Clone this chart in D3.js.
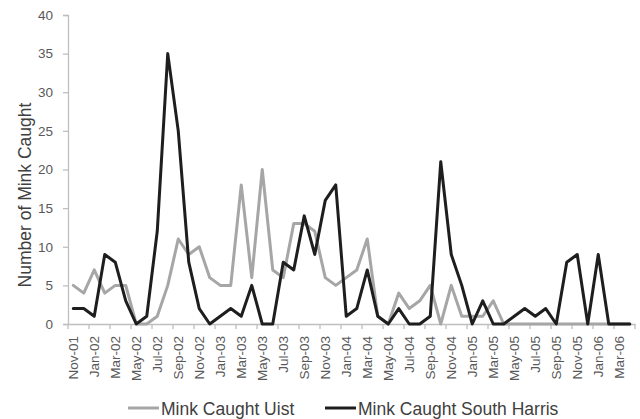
<!DOCTYPE html>
<html>
<head>
<meta charset="utf-8">
<script src="https://cdn.jsdelivr.net/npm/d3@7"></script>
<style>
  html, body { margin: 0; padding: 0; background: #ffffff; }
  svg { display: block; font-family: "Liberation Sans", Arial, sans-serif; }
</style>
</head>
<body>
<svg id="chart" width="640" height="419"></svg>
<script>
// Monthly mink catches, Nov 2001 – Apr 2006
const months = [
  "Nov-01","Dec-01","Jan-02","Feb-02","Mar-02","Apr-02","May-02","Jun-02","Jul-02","Aug-02",
  "Sep-02","Oct-02","Nov-02","Dec-02","Jan-03","Feb-03","Mar-03","Apr-03","May-03","Jun-03",
  "Jul-03","Aug-03","Sep-03","Oct-03","Nov-03","Dec-03","Jan-04","Feb-04","Mar-04","Apr-04",
  "May-04","Jun-04","Jul-04","Aug-04","Sep-04","Oct-04","Nov-04","Dec-04","Jan-05","Feb-05",
  "Mar-05","Apr-05","May-05","Jun-05","Jul-05","Aug-05","Sep-05","Oct-05","Nov-05","Dec-05",
  "Jan-06","Feb-06","Mar-06","Apr-06"
];
const uist = [
  5,4,7,4,5,5,0,0,1,5,
  11,9,10,6,5,5,18,6,20,7,
  6,13,13,12,6,5,6,7,11,1,
  0,4,2,3,5,0,5,1,1,1,
  3,0,0,0,0,0,0,0,0,0,
  0,0,0,0
];
const southHarris = [
  2,2,1,9,8,3,0,1,12,35,
  25,8,2,0,1,2,1,5,0,0,
  8,7,14,9,16,18,1,2,7,1,
  0,2,0,0,1,21,9,5,0,3,
  0,0,1,2,1,2,0,8,9,0,
  9,0,0,0
];
const yTicks = [0,5,10,15,20,25,30,35,40];
const seriesNames = ["Mink Caught Uist", "Mink Caught South Harris"];

const svg = d3.select("#chart");
const plotLeft = 68, plotRight = 635, plotTop = 15, plotBottom = 324;

const x = d3.scaleBand().domain(months).range([plotLeft, plotRight]).padding(0);
const y = d3.scaleLinear().domain([0, 40]).range([plotBottom, plotTop]);

const axisColor = "#bfbfbf";
const textColor = "#595959";

// Y axis
const yAxis = svg.append("g")
  .attr("transform", `translate(${plotLeft},0)`)
  .call(d3.axisLeft(y).tickValues(yTicks).tickSize(5).tickPadding(10));
yAxis.select(".domain").attr("stroke", axisColor).attr("stroke-width", 1.3);
yAxis.selectAll(".tick line").attr("stroke", axisColor).attr("stroke-width", 1.3);
yAxis.selectAll(".tick text")
  .attr("fill", textColor).style("font-size", "13.5px");

// X axis: labels on every other month at the band centre
const xAxis = svg.append("g")
  .attr("transform", `translate(0,${plotBottom})`)
  .call(d3.axisBottom(x)
    .tickValues(months.filter((d, i) => i % 2 === 0))
    .tickSize(0)
    .tickPadding(0));
xAxis.select(".domain").attr("stroke", axisColor).attr("stroke-width", 1.3);
xAxis.selectAll(".tick text")
  .attr("fill", textColor)
  .style("font-size", "13.5px")
  .attr("text-anchor", "end")
  .attr("dy", "0.35em")
  .attr("transform", "translate(0,12) rotate(-90)")
  .attr("x", 0).attr("y", 0);

// X tick marks on the boundaries between every second month
const boundaries = months.filter((d, i) => i % 2 === 0).map(m => x(m));
boundaries.push(x.range()[1]);
svg.append("g").selectAll("line").data(boundaries).join("line")
  .attr("x1", d => d).attr("x2", d => d)
  .attr("y1", plotBottom).attr("y2", plotBottom + 5)
  .attr("stroke", axisColor).attr("stroke-width", 1.3);

// Y axis title
svg.append("text")
  .attr("transform", `translate(25,195) rotate(-90)`)
  .attr("text-anchor", "middle")
  .attr("dy", "0.35em")
  .attr("fill", "#404040")
  .style("font-size", "17.5px")
  .text("Number of Mink Caught");

// Series lines
const line = d3.line()
  .x((d, i) => x(months[i]) + x.bandwidth() / 2)
  .y(d => y(d));

const colors = ["#a6a6a6", "#1e1e1e"];
[uist, southHarris].forEach((vals, k) => {
  svg.append("path")
    .datum(vals)
    .attr("d", line)
    .attr("fill", "none")
    .attr("stroke", colors[k])
    .attr("stroke-width", 3)
    .attr("stroke-linejoin", "round")
    .attr("stroke-linecap", "round");
});

// Legend
const legendItems = [
  { name: seriesNames[0], color: colors[0], x: 128 },
  { name: seriesNames[1], color: colors[1], x: 325 }
];
const lg = svg.append("g");
legendItems.forEach(it => {
  lg.append("line")
    .attr("x1", it.x).attr("x2", it.x + 31)
    .attr("y1", 408).attr("y2", 408)
    .attr("stroke", it.color).attr("stroke-width", 3);
  lg.append("text")
    .attr("x", it.x + 33).attr("y", 414.5)
    .attr("fill", "#404040")
    .style("font-size", "17.5px")
    .text(it.name);
});
</script>
</body>
</html>
